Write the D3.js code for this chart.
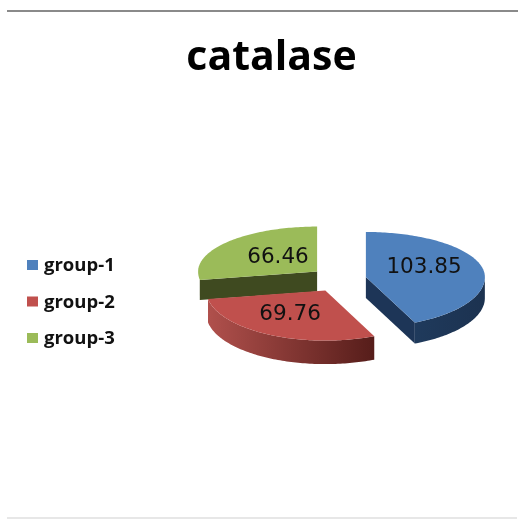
<!DOCTYPE html>
<html>
<head>
<meta charset="utf-8">
<script src="https://cdn.jsdelivr.net/npm/d3@7"></script>
<style>
  html, body { margin: 0; padding: 0; background: #fff; }
  svg { display: block; filter: blur(0.6px); }
  text { font-family: "Open Sans", sans-serif; fill: #111; }
  text.value { font-family: "DejaVu Sans", sans-serif; }
</style>
</head>
<body>
<svg id="chart" width="518" height="519"></svg>
<script>
const title = 'catalase';
const groups = ['group-1', 'group-2', 'group-3'];
const values = [103.85, 69.76, 66.46];
const topColors = ['#4f81bd', '#c0504d', '#9bbb59'];

// pie layout, the near half of the ellipse is a bit taller (perspective)
const CX = 338.5, CY = 279.6;
const RX = 119, RY_FAR = 45, RY_NEAR = 50;
const DEPTHS = [21, 23.5, 20];
const EXPLODE = 28, EXPLODE_Y = 0.445;
// where the value sits inside its slice, as a share of RX and RY_NEAR
const LABEL_SHIFT = [[0.5, 0.22], [0.63, 0.44], [0.43, 0.33]];

const svg = d3.select('#chart');
const defs = svg.append('defs');

function addGradient(id, from, to) {
    const g = defs.append('linearGradient').attr('id', id);
    g.append('stop').attr('offset', '0%').attr('stop-color', from);
    g.append('stop').attr('offset', '100%').attr('stop-color', to);
}
addGradient('wall-0', '#1f3a5c', '#1c3250');
addGradient('wall-1', '#b0504c', '#561d1a');

svg.append('line')
    .attr('x1', 7).attr('x2', 518).attr('y1', 11).attr('y2', 11)
    .attr('stroke', '#8a8a8a').attr('stroke-width', 2);
svg.append('line')
    .attr('x1', 7).attr('x2', 517).attr('y1', 518).attr('y2', 518)
    .attr('stroke', '#cfcfcf').attr('stroke-width', 1);

svg.append('text')
    .attr('x', 271.5).attr('y', 69.5)
    .attr('text-anchor', 'middle')
    .attr('font-size', 41).attr('font-weight', 700)
    .style('fill', '#000')
    .text(title);

const pie = d3.pie().sort(null).value(d => d);
const slices = pie(values);

const line = d3.line();

function rim(a, ox, oy) {
    const c = Math.cos(a);
    return [ox + RX * Math.sin(a), oy - c * (c > 0 ? RY_FAR : RY_NEAR)];
}

function arcPoints(a0, a1, ox, oy) {
    const n = Math.max(2, Math.ceil((a1 - a0) / 0.02));
    return d3.range(n + 1).map(i => rim(a0 + (a1 - a0) * i / n, ox, oy));
}

const layer = svg.append('g');

// back to front: green, red, blue
[2, 1, 0].forEach(i => {
    const s = slices[i];
    const mid = (s.startAngle + s.endAngle) / 2;
    const ox = CX + EXPLODE * Math.sin(mid);
    const oy = CY - EXPLODE * EXPLODE_Y * Math.cos(mid);
    const depth = DEPTHS[i];
    const g = layer.append('g').attr('class', 'slice');

    // cut faces that look toward the viewer
    if (i === 0 || i === 2) {
        const corner = rim(i === 0 ? s.endAngle : s.startAngle, ox, oy);
        g.append('path')
            .attr('d', line([[ox, oy], corner, [corner[0], corner[1] + depth], [ox, oy + depth]]) + 'Z')
            .attr('fill', i === 0 ? '#1d3557' : '#3f4a20');
    }

    // outer wall, only the near half of the rim shows
    const wallStart = Math.max(s.startAngle, Math.PI / 2);
    const wallEnd = Math.min(s.endAngle, Math.PI * 1.5);
    if (wallEnd > wallStart && i < 2) {
        const upper = arcPoints(wallStart, wallEnd, ox, oy);
        const lower = upper.map(p => [p[0], p[1] + depth]).reverse();
        g.append('path')
            .attr('d', line(upper.concat(lower)) + 'Z')
            .attr('fill', `url(#wall-${i})`);
    }

    const top = [[ox, oy]].concat(arcPoints(s.startAngle, s.endAngle, ox, oy));
    g.append('path').attr('d', line(top) + 'Z').attr('fill', topColors[i]);

    const [fx, fy] = LABEL_SHIFT[i];
    g.append('text')
        .attr('class', 'value')
        .attr('x', ox + Math.sin(mid) * RX * fx)
        .attr('y', oy - Math.sign(Math.cos(mid)) * RY_NEAR * fy)
        .attr('text-anchor', 'middle')
        .attr('dominant-baseline', 'central')
        .attr('font-size', 21.5)
        .text(d3.format('.2f')(values[i]));
});

const legendY = d3.scalePoint().domain(groups).range([265, 338]);

const legend = svg.append('g').selectAll('g')
    .data(groups)
    .join('g')
    .attr('transform', d => `translate(27,${legendY(d)})`);

legend.append('rect')
    .attr('y', -5).attr('width', 11).attr('height', 10)
    .attr('fill', (d, i) => topColors[i]);

legend.append('text')
    .attr('x', 17).attr('y', -1.5)
    .attr('dominant-baseline', 'central')
    .attr('font-size', 18.5).attr('font-weight', 700)
    .text(d => d);
</script>
</body>
</html>
